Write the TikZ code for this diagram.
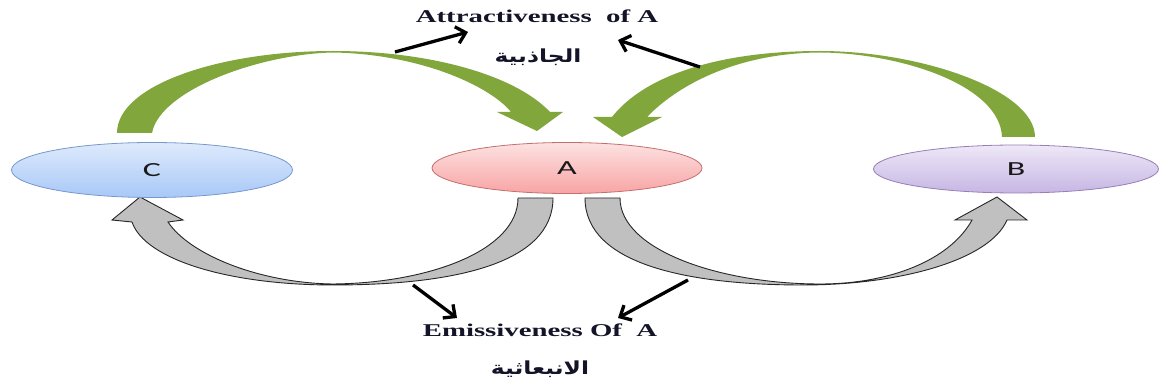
\documentclass[tikz,border=0pt]{standalone}
\usepackage{fontspec}
\usepackage{graphicx}
\setmainfont{Liberation Serif}
\newfontfamily\arabicfont[Script=Arabic]{DejaVu Sans}
\newfontfamily\letterfont{Carlito}
\TeXXeTstate=1
\usetikzlibrary{shapes.geometric,arrows.meta}
\definecolor{arcgreen}{RGB}{128,166,60}
\definecolor{arcgray}{RGB}{192,192,192}
\definecolor{cTop}{RGB}{222,234,252}
\definecolor{cBot}{RGB}{168,200,247}
\definecolor{cLine}{RGB}{118,152,204}
\definecolor{aTop}{RGB}{253,226,226}
\definecolor{aBot}{RGB}{248,164,164}
\definecolor{aLine}{RGB}{196,110,110}
\definecolor{bTop}{RGB}{238,232,247}
\definecolor{bBot}{RGB}{198,182,228}
\definecolor{bLine}{RGB}{150,126,184}
\definecolor{txt}{RGB}{20,20,40}
\tikzset{
  blob/.style={ellipse, inner sep=0pt, line width=0.8pt},
  greenarc/.style={fill=arcgreen},
  grayarc/.style={fill=arcgray, draw=black!85, line width=0.9pt, line join=miter},
  pointer/.style={draw=black, line width=3.3pt, -{Straight Barb[length=9pt,width=17pt,line width=3.3pt]}},
  captext/.style={inner sep=0pt, text=txt, font=\fontsize{18}{20}\selectfont\bfseries},
  arabtext/.style={inner sep=0pt, text=txt, font=\arabicfont\fontsize{18}{21}\selectfont\bfseries},
  lettertext/.style={font=\letterfont\fontsize{20}{22}\selectfont, text=black!90}
}
\begin{document}
\begin{tikzpicture}[x=1pt,y=-1pt]
\useasboundingbox (0,0) rectangle (1159,387);

% green attraction arrows
\fill[greenarc] (117,133) .. controls (117,85) and (220,51) .. (333,51)
  .. controls (430,51) and (515,75) .. (550,112) -- (563,112) -- (537,131) -- (497,112) -- (511,112)
  .. controls (490,86) and (420,54) .. (333,52.5)
  .. controls (260,54) and (160,90) .. (152,133) -- cycle;
\fill[greenarc] (1035,137) .. controls (1035,90) and (920,51) .. (820,51)
  .. controls (720,51) and (645,75) .. (612,117) -- (593,117) -- (622,137) -- (662,117) -- (647,117)
  .. controls (680,83) and (740,53) .. (820,52.5)
  .. controls (900,53) and (1000,85) .. (1002,137) -- cycle;

% gray emission arrows
\draw[grayarc] (553,198) .. controls (553,265) and (450,285) .. (333,285)
  .. controls (230,285) and (145,260) .. (132,222) -- (112,220) -- (140,197) -- (183,220) -- (168,222)
  .. controls (190,255) and (260,283) .. (333,284)
  .. controls (430,283) and (518,250) .. (518,198) -- cycle;
\draw[grayarc] (585,198) .. controls (585,265) and (690,285) .. (803,285)
  .. controls (900,285) and (990,260) .. (1007,220) -- (1027,220) -- (997,197) -- (955,220) -- (972,220)
  .. controls (950,260) and (890,284) .. (820,284)
  .. controls (720,284) and (620,250) .. (620,198) -- cycle;

% ellipses
\node[blob, minimum width=281pt, minimum height=55pt, top color=cTop, bottom color=cBot, draw=cLine] (C) at (152,170) {};
\node[blob, minimum width=270pt, minimum height=51pt, top color=aTop, bottom color=aBot, draw=aLine] (A) at (567,168) {};
\node[blob, minimum width=285pt, minimum height=48pt, top color=bTop, bottom color=bBot, draw=bLine] (B) at (1016,169) {};
\node[lettertext] at (C) {\scalebox{1.7}[1]{C}};
\node[lettertext] at (A) {\scalebox{1.7}[1]{A}};
\node[lettertext] at (B) {\scalebox{1.7}[1]{B}};

% texts
\node[captext] (attr) at (537,16) {\scalebox{1.6}[1]{Attractiveness\ \ of A}};
\node[arabtext] (jadh) at (538,57) {\scalebox{1.3}[1]{\beginR الجاذبية\endR}};
\node[captext] (emis) at (540,330) {\scalebox{1.6}[1]{Emissiveness Of\ \ A}};
\node[arabtext] (inbi) at (540,369) {\scalebox{1.3}[1]{\beginR الانبعاثية\endR}};

% pointers
\coordinate (p1t) at (395,52);  \coordinate (p1h) at (468,32);
\coordinate (p2t) at (700,67);  \coordinate (p2h) at (618,40);
\coordinate (p3t) at (413,285); \coordinate (p3h) at (457,318);
\coordinate (p4t) at (688,280); \coordinate (p4h) at (618,318);
\draw[pointer] (p1t) -- (p1h);
\draw[pointer] (p2t) -- (p2h);
\draw[pointer] (p3t) -- (p3h);
\draw[pointer] (p4t) -- (p4h);
\end{tikzpicture}
\end{document}
